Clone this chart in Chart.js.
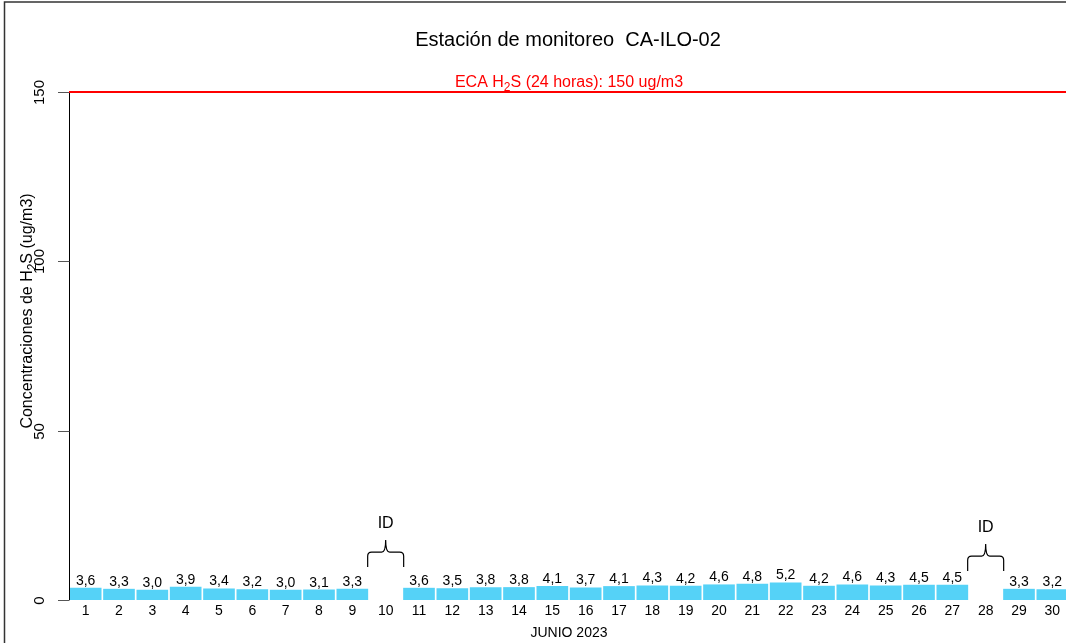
<!DOCTYPE html>
<html>
<head>
<meta charset="utf-8">
<script src="https://cdn.jsdelivr.net/npm/chart.js@4.4.1/dist/chart.umd.min.js"></script>
<style>
  html, body { margin: 0; padding: 0; background: #fff; overflow: hidden; }
  #wrap { width: 1069px; height: 643px; }
</style>
</head>
<body>
<div id="wrap"><canvas id="c" width="1069" height="643"></canvas></div>
<script>
const days = ['1','2','3','4','5','6','7','8','9','10','11','12','13','14','15','16','17','18','19','20','21','22','23','24','25','26','27','28','29','30'];
const h2sValues = [3.6,3.3,3.0,3.9,3.4,3.2,3.0,3.1,3.3,null,3.6,3.5,3.8,3.8,4.1,3.7,4.1,4.3,4.2,4.6,4.8,5.2,4.2,4.6,4.3,4.5,4.5,null,3.3,3.2];
const yTickValues = [0, 50, 100, 150];
const ecaLimit = 150;
const idDays = ['10', '28'];
const titleText = 'Estación de monitoreo  CA-ILO-02';
const xTitleText = 'JUNIO 2023';

const FONT = '"Liberation Sans", Arial, Helvetica, sans-serif';

function drawSubText(ctx, parts, x, y, size, align) {
  let total = 0;
  const widths = parts.map(p => {
    ctx.font = (p.sub ? Math.round(size * 0.72) : size) + 'px ' + FONT;
    const w = ctx.measureText(p.t).width;
    total += w;
    return w;
  });
  let cx = align === 'center' ? x - total / 2 : x;
  ctx.textAlign = 'left';
  ctx.textBaseline = 'alphabetic';
  parts.forEach((p, i) => {
    ctx.font = (p.sub ? Math.round(size * 0.72) : size) + 'px ' + FONT;
    ctx.fillText(p.t, cx, y + (p.sub ? size * 0.28 : 0));
    cx += widths[i];
  });
}

function drawBrace(ctx, xc, half, yTip, yBottom) {
  const yMid = yTip + (yBottom - yTip) * 0.45;
  const r = 4;
  ctx.beginPath();
  ctx.moveTo(xc - half, yBottom);
  ctx.lineTo(xc - half, yMid + r);
  ctx.quadraticCurveTo(xc - half, yMid, xc - half + r, yMid);
  ctx.lineTo(xc - r, yMid);
  ctx.quadraticCurveTo(xc, yMid, xc, yTip);
  ctx.quadraticCurveTo(xc, yMid, xc + r, yMid);
  ctx.lineTo(xc + half - r, yMid);
  ctx.quadraticCurveTo(xc + half, yMid, xc + half, yMid + r);
  ctx.lineTo(xc + half, yBottom);
  ctx.stroke();
}

const decor = {
  id: 'decor',
  afterDraw(chart) {
    const ctx = chart.ctx;
    const xs = chart.scales.x, ys = chart.scales.y;
    const area = chart.chartArea;
    ctx.save();

    // outer frame (left & top)
    ctx.strokeStyle = '#333';
    ctx.lineWidth = 1.5;
    ctx.beginPath();
    ctx.moveTo(4.5, 643); ctx.lineTo(4.5, 2); ctx.lineTo(1069, 2);
    ctx.stroke();

    // title
    ctx.fillStyle = '#000';
    ctx.font = '20px ' + FONT;
    ctx.textAlign = 'center';
    ctx.textBaseline = 'middle';
    ctx.fillText(titleText, 568, 40);

    // y axis line
    const y0 = ys.getPixelForValue(0), yTop = ys.getPixelForValue(150);
    ctx.strokeStyle = '#000';
    ctx.lineWidth = 1;
    ctx.beginPath();
    ctx.moveTo(area.left + 0.5, yTop); ctx.lineTo(area.left + 0.5, y0);
    ctx.stroke();

    // y ticks + rotated labels
    yTickValues.forEach(v => {
      const py = Math.round(ys.getPixelForValue(v)) + 0.5;
      ctx.strokeStyle = '#555';
      ctx.beginPath();
      ctx.moveTo(58, py); ctx.lineTo(area.left + 0.5, py);
      ctx.stroke();
      ctx.save();
      ctx.translate(40, py);
      ctx.rotate(-Math.PI / 2);
      ctx.fillStyle = '#000';
      ctx.font = '15px ' + FONT;
      ctx.textAlign = 'center';
      ctx.textBaseline = 'middle';
      ctx.fillText(String(v), 0, 0);
      ctx.restore();
    });

    // y axis title rotated
    ctx.save();
    ctx.translate(32, 311);
    ctx.rotate(-Math.PI / 2);
    ctx.fillStyle = '#000';
    drawSubText(ctx, [{t: 'Concentraciones de H'}, {t: '2', sub: true}, {t: 'S (ug/m3)'}], 0, 0, 16, 'center');
    ctx.restore();

    // ECA line
    const yE = ys.getPixelForValue(ecaLimit);
    ctx.strokeStyle = '#FF0000';
    ctx.lineWidth = 2;
    ctx.beginPath();
    ctx.moveTo(area.left, yE); ctx.lineTo(1069, yE);
    ctx.stroke();
    ctx.fillStyle = '#FF0000';
    drawSubText(ctx, [{t: 'ECA H'}, {t: '2', sub: true}, {t: 'S (24 horas): ' + ecaLimit + ' ug/m3'}], 569, yE - 5, 16, 'center');

    // x labels
    ctx.fillStyle = '#000';
    ctx.font = '14px ' + FONT;
    ctx.textAlign = 'center';
    ctx.textBaseline = 'middle';
    days.forEach((d, i) => {
      ctx.fillText(d, xs.getPixelForValue(i), y0 + 11);
    });
    ctx.fillText(xTitleText, 569, y0 + 33);

    // value labels
    const meta = chart.getDatasetMeta(0);
    ctx.textBaseline = 'alphabetic';
    h2sValues.forEach((v, i) => {
      if (v === null) return;
      const bar = meta.data[i];
      ctx.fillText(v.toFixed(1).replace('.', ','), bar.x, ys.getPixelForValue(v) - 3);
    });

    // ID braces
    const braceBottoms = [33, 29];
    idDays.forEach((d, k) => {
      const i = days.indexOf(d);
      const xc = xs.getPixelForValue(i);
      const yb = y0 - braceBottoms[k];
      ctx.strokeStyle = '#000';
      ctx.lineWidth = 1.2;
      drawBrace(ctx, xc, 18, yb - 27, yb);
      ctx.fillStyle = '#000';
      ctx.font = '16px ' + FONT;
      ctx.textAlign = 'center';
      ctx.textBaseline = 'middle';
      ctx.fillText('ID', xc, yb - 43);
    });

    ctx.restore();
  }
};

new Chart(document.getElementById('c'), {
  type: 'bar',
  data: {
    labels: days,
    datasets: [{
      data: h2sValues,
      backgroundColor: '#55D2F7',
      borderWidth: 0,
      categoryPercentage: 1.0,
      barPercentage: 0.95
    }]
  },
  options: {
    responsive: false,
    animation: false,
    devicePixelRatio: 1,
    layout: { padding: { left: 69, top: 92, right: 0, bottom: 43 } },
    scales: {
      x: { display: false },
      y: { display: false, min: 0, max: 150 }
    },
    plugins: { legend: { display: false }, tooltip: { enabled: false } }
  },
  plugins: [decor]
});
</script>
</body>
</html>
